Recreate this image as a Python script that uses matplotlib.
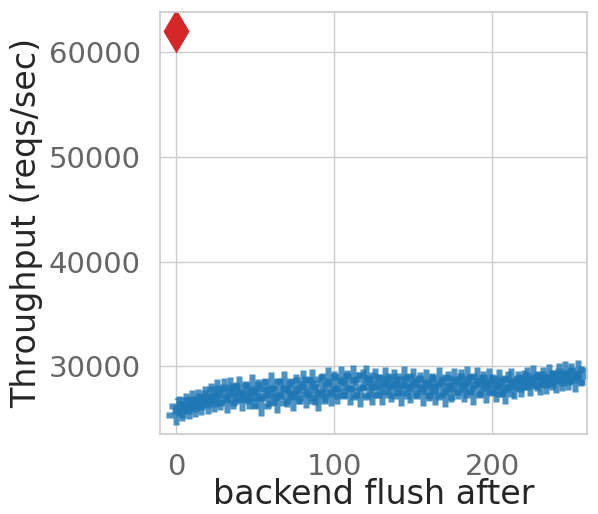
import matplotlib
matplotlib.use("Agg")
import matplotlib.pyplot as plt
import numpy as np
import seaborn as sns

# backend_flush_after sweep (every 2 pages) and the default setting
flush_after = list(range(0, 258, 2))
throughput = [
    25400, 26200, 25700, 26500, 25900, 26800, 26100, 26900, 26300, 27200,
    26400, 27500, 26600, 27800, 26800, 27900, 26500, 28000, 26900, 27600,
    28100, 26700, 27600, 26900, 28300, 27000, 27800, 26200, 27900, 27100,
    28500, 27300, 26500, 27900, 28600, 27100, 27800, 26700, 28300, 27400,
    28700, 27000, 28000, 28800, 27300, 26700, 28400, 27600, 29000, 27200,
    28600, 27400, 29100, 27800, 28700, 27300, 29200, 27900, 27100, 28800,
    29200, 28000, 27300, 28900, 28300, 27300, 29000, 28400, 27600, 28800,
    28100, 27200, 29100, 28300, 27500, 28900, 27900, 28500, 27200, 28800,
    27700, 28400, 27300, 29000, 28100, 27100, 28600, 27600, 28900, 27800,
    28800, 27600, 29100, 28300, 27300, 29000, 28000, 28600, 27500, 28900,
    28300, 27600, 28800, 28000, 27400, 28600, 28900, 27800, 28600, 28000,
    28700, 29000, 28100, 29200, 28600, 28200, 29000, 28300, 29300, 28700,
    28400, 29400, 28600, 29600, 28700, 29400, 28500, 29700, 29100,
]
default_x = [0]
default_y = [62000]

sns.set_theme(style="whitegrid")
plt.rcParams['font.family'] = ['DejaVu Sans']

fig = plt.figure(figsize=(5.98, 5.14), dpi=100)
ax = fig.add_axes([0.268, 0.156, 0.714, 0.821])

blue = "#1f77b4"
ax.plot(flush_after, throughput, "P", color=blue, ms=14, alpha=0.8, mec="none")
k, b = np.polyfit(flush_after, throughput, 1)
xs = np.array([min(flush_after), max(flush_after)])
ax.plot(xs, k * xs + b, color=blue, lw=2, alpha=0.6)
ax.plot(default_x, default_y, "d", color="#d62728", ms=22, mec="none")

ax.set_xlim(-10, 260)
ax.set_xticks([0, 100, 200])
ax.set_yticks([30000, 40000, 50000, 60000])
ax.tick_params(labelsize=21, labelcolor="0.4", pad=8)
ax.set_xlabel("backend flush after", fontsize=24, color="0.15", labelpad=-2)
ax.set_ylabel("Throughput (reqs/sec)", fontsize=24, color="0.15", labelpad=4)

fig.savefig("out.png", dpi=100)
